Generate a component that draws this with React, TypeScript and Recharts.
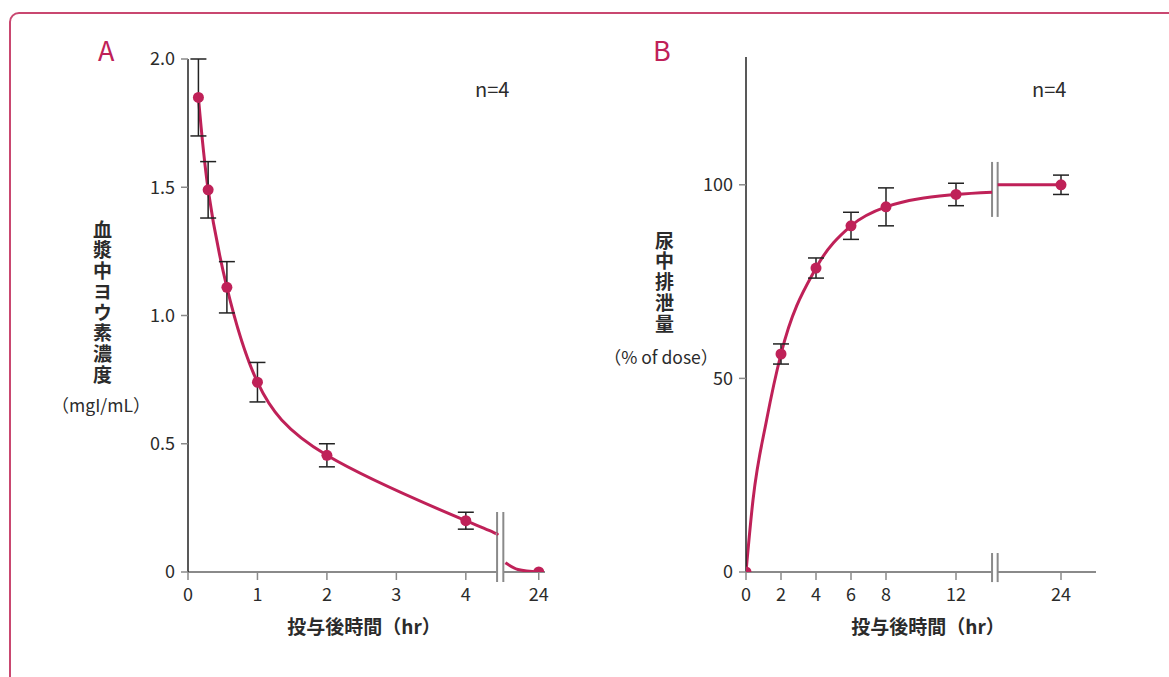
import React from 'react';
import { ComposedChart, Line, Scatter, XAxis, YAxis, ErrorBar, ReferenceLine } from 'recharts';

const FONT = '"Noto Sans CJK JP", "Noto Sans", sans-serif';
const RED = '#BF2158';
const AXIS_GRAY = '#8a8a8a';
const TEXT = '#2b2b2b';

// A: 血漿中ヨウ素濃度 (mgI/mL)
const timeA = [0.15, 0.29, 0.56, 1, 2, 4, 24];
const concA = [1.85, 1.49, 1.11, 0.74, 0.455, 0.2, 0];
const sdA = [0.15, 0.11, 0.1, 0.077, 0.045, 0.033, 0];
const ticksA = [0, 1, 2, 3, 4, 24];
const yTicksA = [0, 0.5, 1, 1.5, 2];
// fitted curve, in axis units (24 h is drawn at 5.05)
const fitAX1 = [0.15, 0.29, 0.56, 1, 2, 4, 4.45];
const fitAY1 = [1.85, 1.49, 1.11, 0.74, 0.455, 0.2, 0.148];
const fitAX2 = [4.57, 4.75, 5.05];
const fitAY2 = [0.036, 0.01, 0];

// B: 尿中排泄量 (% of dose)
const timeB = [0, 2, 4, 6, 8, 12, 24];
const excrB = [0, 56.3, 78.5, 89.4, 94.3, 97.5, 100];
const sdB = [0, 2.6, 2.6, 3.5, 4.9, 2.9, 2.5];
const ticksB = [0, 2, 4, 6, 8, 12, 24];
const yTicksB = [0, 50, 100];
// fitted curve, axis units (24 h is drawn at 18)
const fitBX1 = [0, 0.4, 1.18, 2, 4, 6, 8, 12, 14.06];
const fitBY1 = [0, 18.6, 39.3, 56.3, 78.5, 89.4, 94.3, 97.5, 98.1];
const fitBX2 = [14.38, 18];
const fitBY2 = [100, 100];

type PanelProps = {
  left: number;
  width: number;
  margin: { top: number; right: number; bottom: number; left: number };
  xMax: number;
  yMax: number;
  pos24: number;
  times: number[];
  values: number[];
  sds: number[];
  xTicks: number[];
  yTicks: number[];
  yFmt: (v: number) => string;
  fit1: [number[], number[]];
  fit2: [number[], number[]];
  curve: 'monotone' | 'natural';
  breakX: [number, number];
  breakMarks: [number, number][];
};

const zip = (xs: number[], ys: number[]) => xs.map((x, i) => ({ x, y: ys[i] }));

const Dot = (p: any) => <circle cx={p.cx} cy={p.cy} r={5.5} fill={RED} />;

const Panel: React.FC<PanelProps> = (p) => {
  const pos = (t: number) => (t === 24 ? p.pos24 : t);
  const points = p.times.map((t, i) => ({ x: pos(t), y: p.values[i], err: p.sds[i] }));
  const tickStyle = { fill: TEXT, fontSize: 18, fontFamily: FONT };
  return (
    <div style={{ position: 'absolute', left: p.left, top: 0 }}>
      <ComposedChart width={p.width} height={677} margin={p.margin}>
        <XAxis
          type="number"
          dataKey="x"
          domain={[0, p.xMax]}
          ticks={p.xTicks.map(pos)}
          tickFormatter={(v: number) => (v === p.pos24 ? '24' : String(v))}
          axisLine={false}
          tickLine={{ stroke: AXIS_GRAY, strokeWidth: 1.5 }}
          tickSize={8}
          tickMargin={8}
          height={30}
          tick={tickStyle}
          allowDataOverflow
        />
        <YAxis
          type="number"
          dataKey="y"
          domain={[0, p.yMax]}
          ticks={p.yTicks}
          tickFormatter={p.yFmt}
          axisLine={{ stroke: '#222', strokeWidth: 1.5 }}
          tickLine={{ stroke: AXIS_GRAY, strokeWidth: 1.5 }}
          tickSize={7}
          tickMargin={6}
          width={40}
          tick={tickStyle}
          allowDataOverflow
        />
        <ReferenceLine segment={[{ x: 0, y: 0 }, { x: p.breakX[0], y: 0 }]} stroke={AXIS_GRAY} strokeWidth={2} ifOverflow="visible" />
        <ReferenceLine segment={[{ x: p.breakX[1], y: 0 }, { x: p.xMax, y: 0 }]} stroke={AXIS_GRAY} strokeWidth={2} ifOverflow="visible" />
        {p.breakMarks.map(([y0, y1], i) =>
          p.breakX.map((bx) => (
            <ReferenceLine
              key={`${i}-${bx}`}
              segment={[{ x: bx, y: y0 }, { x: bx, y: y1 }]}
              stroke={AXIS_GRAY}
              strokeWidth={2}
              ifOverflow="visible"
            />
          ))
        )}
        <Line data={zip(p.fit1[0], p.fit1[1])} dataKey="y" type={p.curve} stroke={RED} strokeWidth={3} dot={false} isAnimationActive={false} />
        <Line data={zip(p.fit2[0], p.fit2[1])} dataKey="y" type="monotone" stroke={RED} strokeWidth={3} dot={false} isAnimationActive={false} />
        <Scatter data={points} dataKey="y" shape={Dot} isAnimationActive={false}>
          <ErrorBar dataKey="err" direction="y" width={8} stroke="#222" strokeWidth={1.5} />
        </Scatter>
      </ComposedChart>
    </div>
  );
};

const abs = (style: React.CSSProperties): React.CSSProperties => ({ position: 'absolute', fontFamily: FONT, color: TEXT, ...style });

const VLabel: React.FC<{ cx: number; top: number; chars: string; unit: string; unitX: number; unitTop: number }> = ({ cx, top, chars, unit, unitX, unitTop }) => (
  <>
    <div
      style={abs({
        left: cx - 12,
        top,
        width: 24,
        fontSize: 19,
        lineHeight: '24px',
        letterSpacing: '1.75px',
        fontWeight: 600,
        writingMode: 'vertical-rl',
        textOrientation: 'upright',
      })}
    >
      {chars}
    </div>
    <div style={abs({ left: unitX, top: unitTop, transform: 'translateX(-50%)', fontSize: 17.5, lineHeight: '18px', whiteSpace: 'nowrap' })}>{unit}</div>
  </>
);

export default function App() {
  return (
    <div style={{ position: 'absolute', left: 0, top: 0, width: 1169, height: 677, overflow: 'hidden', background: '#fff' }}>
      <div style={{ position: 'absolute', left: 9, top: 12, width: 1200, height: 700, border: '2px solid #C94770', borderRadius: 10, boxSizing: 'border-box' }} />

      <Panel
        left={0}
        width={600}
        margin={{ top: 59, right: 55, bottom: 75, left: 148 }}
        xMax={5.14}
        yMax={2}
        pos24={5.05}
        times={timeA}
        values={concA}
        sds={sdA}
        xTicks={ticksA}
        yTicks={yTicksA}
        yFmt={(v) => (v === 0 ? '0' : v.toFixed(1))}
        fit1={[fitAX1, fitAY1]}
        fit2={[fitAX2, fitAY2]}
        curve="natural"
        breakX={[4.45, 4.54]}
        breakMarks={[[-0.039, 0.234]]}
      />
      <Panel
        left={560}
        width={609}
        margin={{ top: 57, right: 73, bottom: 75, left: 146 }}
        xMax={20}
        yMax={133}
        pos24={18}
        times={timeB}
        values={excrB}
        sds={sdB}
        xTicks={ticksB}
        yTicks={yTicksB}
        yFmt={(v) => String(v)}
        fit1={[fitBX1, fitBY1]}
        fit2={[fitBX2, fitBY2]}
        curve="monotone"
        breakX={[14.06, 14.38]}
        breakMarks={[[-2.6, 4.9], [91.7, 105.9]]}
      />

      <div style={abs({ left: 98, top: 34, fontSize: 27, lineHeight: '32px', color: RED })}>A</div>
      <div style={abs({ left: 653, top: 34, fontSize: 27, lineHeight: '32px', color: RED })}>B</div>
      <div style={abs({ left: 475, top: 76, fontSize: 20, lineHeight: '26px' })}>n=4</div>
      <div style={abs({ left: 1032, top: 76, fontSize: 20, lineHeight: '26px' })}>n=4</div>

      <VLabel cx={102} top={220} chars="血漿中ヨウ素濃度" unit="（mgI/mL）" unitX={101} unitTop={396} />
      <VLabel cx={664} top={231} chars="尿中排泄量" unit="（% of dose）" unitX={661} unitTop={348} />

      <div style={abs({ left: 264, top: 614, width: 200, textAlign: 'center', fontSize: 19, lineHeight: '24px', fontWeight: 700 })}>投与後時間（hr）</div>
      <div style={abs({ left: 828, top: 614, width: 200, textAlign: 'center', fontSize: 19, lineHeight: '24px', fontWeight: 700 })}>投与後時間（hr）</div>
    </div>
  );
}
